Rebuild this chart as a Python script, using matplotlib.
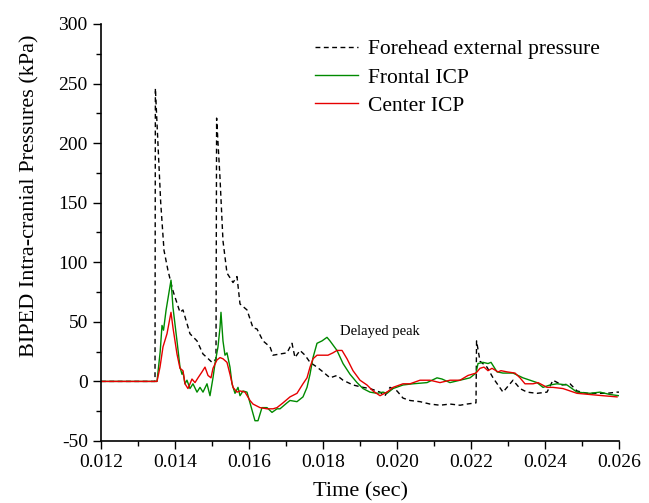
#!/usr/bin/env python3

import matplotlib
matplotlib.use("Agg")
import matplotlib.pyplot as plt
from matplotlib.ticker import MultipleLocator, FormatStrFormatter

# Forehead external pressure (kPa) against time (sec).

t_ext = [0.01200, 0.01346, 0.01347, 0.013614, 0.013703, 0.013811, 0.013946,
         0.014135, 0.014216, 0.014405, 0.014595, 0.014757, 0.014865, 0.015000,
         0.015081, 0.015108, 0.015125, 0.015216, 0.015297, 0.015405, 0.015568,
         0.015676, 0.015757, 0.015946, 0.016108, 0.016216, 0.016378, 0.016568,
         0.016649, 0.016838, 0.017027, 0.017162, 0.017243, 0.017378, 0.017514,
         0.017649, 0.017838, 0.018000, 0.018189, 0.018378, 0.018541, 0.018811,
         0.019081, 0.019270, 0.019541, 0.019676, 0.019811, 0.020000, 0.020162,
         0.020351, 0.020622, 0.020892, 0.021162, 0.021432, 0.021703, 0.021892,
         0.022135, 0.022150, 0.022243, 0.022432, 0.022595, 0.022865, 0.023054,
         0.023135, 0.023324, 0.023514, 0.023784, 0.024054, 0.024216, 0.024459,
         0.024676, 0.024865, 0.025135, 0.025405, 0.025676, 0.025946, 0.02600]
p_ext = [0, 0, 246, 150, 110, 93, 76,
         58, 60, 40, 34, 23, 20, 16,
         18, 18, 221, 171, 118, 91, 83,
         88, 65, 60, 45, 44, 34, 29,
         22, 23, 24, 32, 20, 26, 22,
         16, 12, 8, 3, 5, 1, -3,
         -5, -6, -9, -12, -5, -8, -14,
         -16, -17, -19, -20, -19, -20, -19,
         -18, 34, 17, 12, 3, -9, -2,
         1, -6, -9, -10, -9, 1, -3,
         -2, -8, -10, -10, -10, -9, -9]

# Frontal intra-cranial pressure (kPa).

t_front = [0.01200, 0.013514, 0.013600, 0.013649, 0.013690, 0.013760, 0.013892,
           0.013946, 0.014054, 0.014135, 0.014189, 0.014216, 0.014270, 0.014324,
           0.014405, 0.014486, 0.014595, 0.014676, 0.014757, 0.014865, 0.014946,
           0.015027, 0.015081, 0.015162, 0.015216, 0.015243, 0.015297, 0.015351,
           0.015405, 0.015486, 0.015541, 0.015622, 0.015703, 0.015757, 0.015838,
           0.015946, 0.016027, 0.016162, 0.016243, 0.016351, 0.016486, 0.016622,
           0.016757, 0.016838, 0.017027, 0.017108, 0.017297, 0.017459, 0.017568,
           0.017649, 0.017730, 0.017838, 0.017973, 0.018108, 0.018189, 0.018378,
           0.018541, 0.018730, 0.018919, 0.019081, 0.019270, 0.019459, 0.019622,
           0.019730, 0.019892, 0.020162, 0.020432, 0.020811, 0.021081, 0.021216,
           0.021432, 0.021703, 0.021973, 0.022135, 0.022189, 0.022324, 0.022459,
           0.022541, 0.022703, 0.022865, 0.023135, 0.023405, 0.023784, 0.023946,
           0.024135, 0.024324, 0.024595, 0.024865, 0.025216, 0.025486, 0.025757,
           0.02600]
p_front = [0, 0, 25, 47, 43, 60, 85,
           62, 34, 12, 6, 8, -2, 1,
           -6, -2, -9, -5, -9, -2, -12,
           3, 15, 29, 45, 58, 34, 22,
           24, 12, -2, -10, -5, -12, -8,
           -9, -18, -33, -33, -22, -22, -26,
           -23, -23, -18, -16, -17, -13, -5,
           6, 20, 32, 34, 37, 34, 26,
           15, 6, -1, -6, -9, -10, -9,
           -10, -6, -3, -2, -1, 3, 2,
           -1, 1, 3, 7, 15, 16, 15,
           16, 8, 7, 7, 3, -1, -5,
           -3, -2, -3, -9, -10, -9, -11,
           -12]

# Center intra-cranial pressure (kPa).

t_center = [0.01200, 0.013514, 0.013595, 0.013676, 0.013784, 0.013892, 0.013946,
            0.014054, 0.014135, 0.014216, 0.014270, 0.014351, 0.014459, 0.014541,
            0.014622, 0.014730, 0.014811, 0.014892, 0.014973, 0.015027, 0.015135,
            0.015216, 0.015297, 0.015405, 0.015486, 0.015568, 0.015676, 0.015757,
            0.015892, 0.016027, 0.016108, 0.016297, 0.016486, 0.016649, 0.016757,
            0.016919, 0.017108, 0.017297, 0.017459, 0.017568, 0.017649, 0.017730,
            0.017838, 0.018000, 0.018135, 0.018270, 0.018378, 0.018514, 0.018649,
            0.018811, 0.019000, 0.019189, 0.019351, 0.019541, 0.019730, 0.019892,
            0.020162, 0.020351, 0.020622, 0.020892, 0.021162, 0.021432, 0.021703,
            0.021919, 0.022135, 0.022243, 0.022351, 0.022459, 0.022568, 0.022730,
            0.022811, 0.022973, 0.023189, 0.023324, 0.023459, 0.023676, 0.023811,
            0.024054, 0.024216, 0.024486, 0.024865, 0.025216, 0.025568, 0.025946]
p_center = [0, 0, 12, 29, 40, 58, 45,
            23, 11, 9, -2, -6, 2, -1,
            3, 8, 12, 5, 3, 11, 18,
            20, 19, 16, 6, -5, -9, -8,
            -9, -16, -19, -22, -23, -23, -22,
            -18, -13, -10, -2, 3, 12, 19,
            22, 22, 22, 24, 26, 26, 19,
            9, 1, -3, -8, -12, -9, -5,
            -2, -2, 1, 1, -1, 1, 1,
            5, 7, 11, 12, 9, 11, 8,
            9, 8, 7, 3, -2, -2, -1,
            -5, -5, -6, -10, -11, -12, -13]

# Serif fonts throughout, plain hyphen for negative numbers.

matplotlib.rcParams["font.family"] = "serif"
matplotlib.rcParams["font.serif"] = ["Liberation Serif", "DejaVu Serif"]
matplotlib.rcParams["font.size"] = 14
matplotlib.rcParams["axes.unicode_minus"] = False

fig = plt.figure(figsize=(6.49, 5.03), dpi=100)
ax = fig.add_axes([0.1556, 0.1233, 0.7982, 0.829])

ax.plot(t_ext, p_ext, color="black", linestyle=(0, (3.5, 2.5)), linewidth=1.0,
        label="Forehead external pressure")
ax.plot(t_front, p_front, color="#008a00", linewidth=1.0, label="Frontal ICP")
ax.plot(t_center, p_center, color="#e60000", linewidth=1.0, label="Center ICP")

ax.text(0.01846, 42, "Delayed peak", fontsize=10.5, va="center", ha="left")

# Axes limits and ticks.

ax.set_xlim(0.012, 0.026)
ax.set_ylim(-50, 300)
ax.xaxis.set_major_locator(MultipleLocator(0.002))
ax.xaxis.set_minor_locator(MultipleLocator(0.001))
ax.xaxis.set_major_formatter(FormatStrFormatter("%.3f"))
ax.yaxis.set_major_locator(MultipleLocator(50))
ax.yaxis.set_minor_locator(MultipleLocator(25))
ax.tick_params(which="major", direction="out", length=6, width=1.0, labelsize=14)
ax.tick_params(which="minor", direction="out", length=3.5, width=1.0)
ax.spines["top"].set_visible(False)
ax.spines["right"].set_visible(False)
ax.spines["left"].set_linewidth(1.2)
ax.spines["bottom"].set_linewidth(1.2)

ax.set_xlabel("Time (sec)", fontsize=16, labelpad=8)
ax.set_ylabel("BIPED Intra-cranial Pressures (kPa)", fontsize=16)
ax.yaxis.set_label_coords(-0.118, 0.587)

# Legend in the upper right, no frame.

ax.legend(loc="upper left", bbox_to_anchor=(0.485, 0.922),
          bbox_transform=fig.transFigure, frameon=False, fontsize=15.5,
          handlelength=2.0, handletextpad=0.45, labelspacing=0.38,
          borderpad=0, borderaxespad=0)

fig.savefig("out.png", dpi=100)
